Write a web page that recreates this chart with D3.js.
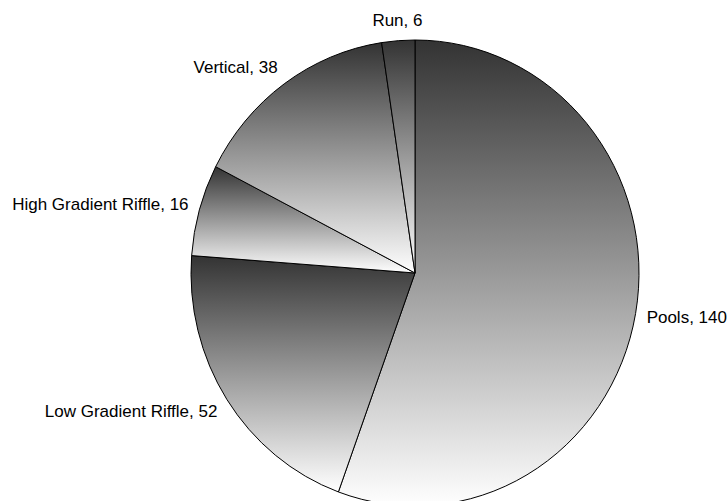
<!DOCTYPE html>
<html>
<head>
<meta charset="utf-8">
<script src="https://cdn.jsdelivr.net/npm/d3@7/dist/d3.min.js"></script>
<style>
  html, body { margin: 0; padding: 0; background: #ffffff; }
  svg { display: block; }
  text { font-family: "Liberation Sans", Arial, sans-serif; font-size: 17px; fill: #000; }
</style>
</head>
<body>
<svg id="chart" width="727" height="501"></svg>
<script>
// Habitat types and their counts, clockwise from 12 o'clock
const categories = ["Pools", "Low Gradient Riffle", "High Gradient Riffle", "Vertical", "Run"];
const counts = [140, 52, 16, 38, 6];

const width = 727, height = 501;
const cx = 415, cy = 273;
const rx = 224, ry = 233;   // slightly taller than wide

const svg = d3.select("#chart");

const data = categories.map((c, i) => ({ name: c, value: counts[i] }));

const pie = d3.pie().sort(null).value(d => d.value).startAngle(0).endAngle(2 * Math.PI);
const arcs = pie(data);

const arc = d3.arc().innerRadius(0).outerRadius(rx);

// each wedge gets its own dark-to-white vertical gradient
const defs = svg.append("defs");
const gradId = d3.scaleOrdinal().domain(categories).range(categories.map((c, i) => "wedge-grad-" + i));
categories.forEach(c => {
  const g = defs.append("linearGradient")
    .attr("id", gradId(c))
    .attr("x1", 0).attr("y1", 0).attr("x2", 0).attr("y2", 1);
  g.append("stop").attr("offset", "0%").attr("stop-color", "#333333");
  g.append("stop").attr("offset", "100%").attr("stop-color", "#ffffff");
});

const pieG = svg.append("g")
  .attr("transform", `translate(${cx},${cy}) scale(1,${ry / rx})`);

pieG.selectAll("path")
  .data(arcs)
  .join("path")
  .attr("d", arc)
  .attr("fill", d => `url(#${gradId(d.data.name)})`)
  .attr("stroke", "#000")
  .attr("stroke-width", 1)
  .attr("vector-effect", "non-scaling-stroke");

// labels sit just outside the rim at each wedge's mid-angle
const labelG = svg.append("g");
arcs.forEach(d => {
  const mid = (d.startAngle + d.endAngle) / 2;
  const s = Math.sin(mid), c = Math.cos(mid);
  const x = cx + rx * 1.05 * s;
  const y = cy - ry * 1.09 * c;
  let anchor = s > 0 ? "start" : "end";
  if (Math.abs(s) < 0.15) anchor = "middle";
  labelG.append("text")
    .attr("x", x)
    .attr("y", y)
    .attr("dy", "0.35em")
    .attr("text-anchor", anchor)
    .text(`${d.data.name}, ${d.data.value}`);
});
</script>
</body>
</html>
